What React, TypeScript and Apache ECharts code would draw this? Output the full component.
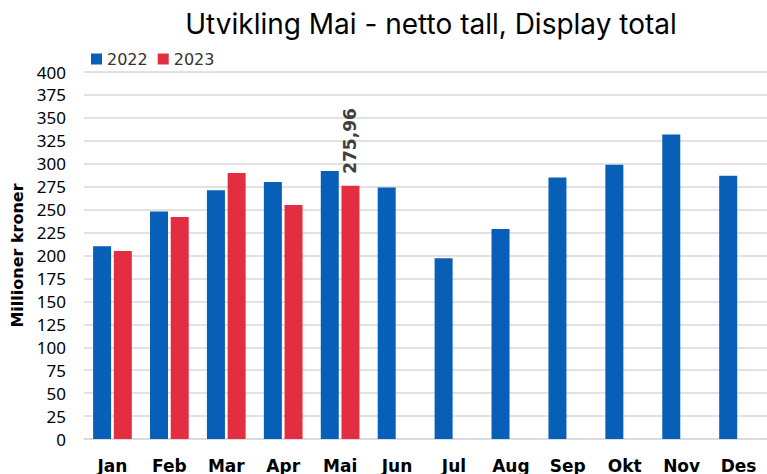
import React, { useEffect, useRef } from "react";
import * as echarts from "echarts";

const months = ["Jan", "Feb", "Mar", "Apr", "Mai", "Jun", "Jul", "Aug", "Sep", "Okt", "Nov", "Des"];
const values2022 = [210, 248, 271, 280, 292, 274, 197, 229, 285, 299, 332, 287];
const values2023: (number | null)[] = [205, 242, 290, 255, 275.96, null, null, null, null, null, null, null];
const labelledMonth = "Mai";
const yTicks = { min: 0, max: 400, interval: 25 };

export default function App() {
  const ref = useRef<HTMLDivElement>(null);
  useEffect(() => {
    document.body.style.margin = "0";
    const chart = echarts.init(ref.current!, undefined, { renderer: "svg" });
    const data2023 = values2023.map((v, i) =>
      months[i] === labelledMonth && v != null
        ? {
            value: v,
            label: {
              show: true,
              position: "top",
              rotate: 90,
              distance: 12,
              align: "left",
              verticalAlign: "middle",
              color: "#404040",
              fontWeight: "bold",
              fontSize: 17,
              fontFamily: "DejaVu Sans",
              formatter: (p: any) => String(p.value).replace(".", ","),
            },
          }
        : v
    );
    chart.setOption({
      animation: false,
      backgroundColor: "#ffffff",
      title: {
        text: "Utvikling Mai - netto tall, Display total",
        left: 426,
        textAlign: "center",
        top: 5,
        textStyle: { fontFamily: "Inter", fontWeight: "normal", fontSize: 28, color: "#000" },
      },
      legend: {
        left: 86,
        top: 46,
        itemWidth: 11,
        itemHeight: 11,
        itemGap: 10,
        icon: "rect",
        textStyle: { fontFamily: "DejaVu Sans", fontSize: 16, color: "#333", padding: [0, 0, 0, 0] },
      },
      grid: { left: 84, right: -13, top: 72, bottom: 34, containLabel: false },
      xAxis: {
        type: "category",
        data: months,
        axisLine: { lineStyle: { color: "#d9d9d9", width: 1.5 } },
        axisTick: { show: false },
        axisLabel: {
          color: "#000",
          fontWeight: "bold",
          fontSize: 17,
          fontFamily: "DejaVu Sans",
          margin: 18,
          interval: 0,
        },
      },
      yAxis: {
        type: "value",
        min: yTicks.min,
        max: yTicks.max,
        interval: yTicks.interval,
        name: "Millioner kroner",
        nameLocation: "middle",
        nameGap: 56,
        nameRotate: 90,
        nameTextStyle: { fontFamily: "DejaVu Sans", fontWeight: "bold", fontSize: 16, color: "#000" },
        axisLabel: { color: "#000", fontSize: 17, fontFamily: "Noto Sans", margin: 18 },
        splitLine: { lineStyle: { color: "#d9d9d9", width: 1.5 } },
        axisLine: { show: false },
        axisTick: { show: false },
      },
      series: [
        {
          name: "2022",
          type: "bar",
          data: values2022,
          barWidth: 18,
          barGap: "15%",
          itemStyle: { color: "#085FB7" },
        },
        {
          name: "2023",
          type: "bar",
          data: data2023,
          barWidth: 18,
          barGap: "15%",
          itemStyle: { color: "#E22E40" },
        },
      ],
    });
    return () => chart.dispose();
  }, []);
  return <div ref={ref} style={{ position: "fixed", left: 0, top: 0, width: 767, height: 474 }} />;
}
